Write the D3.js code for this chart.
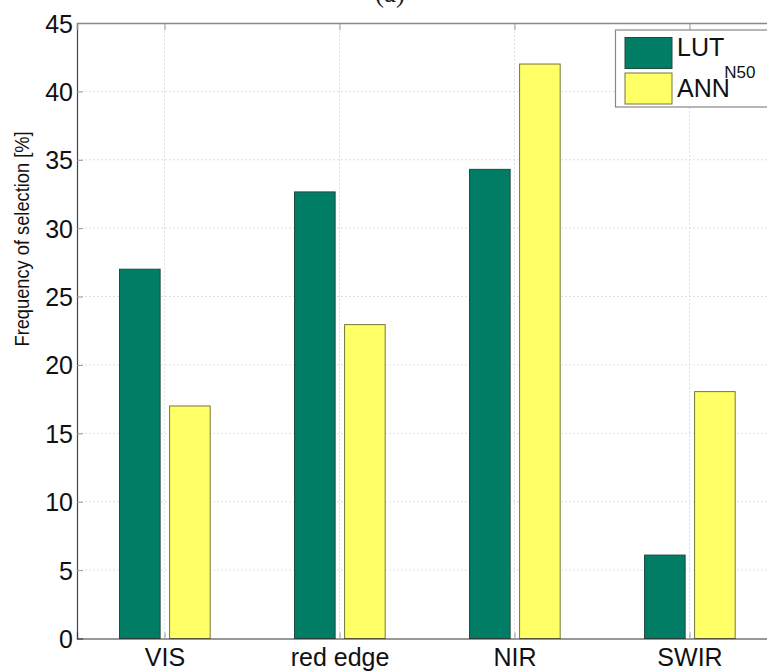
<!DOCTYPE html>
<html>
<head>
<meta charset="utf-8">
<script src="https://cdn.jsdelivr.net/npm/d3@7"></script>
<style>
  body { margin: 0; background: #fff; }
  svg { display: block; }
</style>
</head>
<body>
<script>
// Data
const CATEGORIES = ["VIS", "red edge", "NIR", "SWIR"];
const LUT_VALUES = [27.0, 32.65, 34.3, 6.1];
const ANN_VALUES = [17.0, 22.95, 42.0, 18.05];
const Y_TICKS = [0, 5, 10, 15, 20, 25, 30, 35, 40, 45];
const SERIES = [
  { name: "LUT", sub: "N50", values: LUT_VALUES, fill: "#017d66", stroke: "#1f4a3f", offset: -0.141 },
  { name: "ANN", sub: "", values: ANN_VALUES, fill: "#ffff66", stroke: "#77773a", offset: 0.145 }
];

/* Dimensions */
const WIDTH = 767;
const HEIGHT = 671;
const PLOT_LEFT = 77;
const PLOT_RIGHT = 777;   // axes box runs past the right edge of the picture
const PLOT_TOP = 23;
const PLOT_BOTTOM = 638.5;
const BAR_W = 0.232;      // in category units
const FONT = "Arial, 'Liberation Sans', Helvetica, sans-serif";

const svg = d3.select("body").append("svg")
  .attr("width", WIDTH)
  .attr("height", HEIGHT);

// Scales: categories sit at 1..4 like a MATLAB bar plot
const x = d3.scaleLinear()
  .domain([0.5, CATEGORIES.length + 0.5])
  .range([PLOT_LEFT, PLOT_RIGHT]);
const y = d3.scaleLinear()
  .domain([0, 45])
  .range([PLOT_BOTTOM, PLOT_TOP]);

// Title, mostly cut off at the top
svg.append("text")
  .attr("x", 390)
  .attr("y", 2)
  .attr("text-anchor", "middle")
  .attr("style", "font-family: 'Liberation Serif', 'Times New Roman', serif; font-size: 27px; fill: #222;")
  .text("(a)");

// Grid lines
const grid = svg.append("g");
grid.selectAll(".hgrid")
  .data(Y_TICKS.filter(d => d > 0 && d < 45))
  .enter().append("line")
  .attr("x1", PLOT_LEFT).attr("x2", PLOT_RIGHT)
  .attr("y1", d => y(d)).attr("y2", d => y(d))
  .attr("stroke", "#e0e0e0")
  .attr("stroke-dasharray", "2,2");
grid.selectAll(".vgrid")
  .data(CATEGORIES)
  .enter().append("line")
  .attr("x1", (d, i) => x(i + 1)).attr("x2", (d, i) => x(i + 1))
  .attr("y1", PLOT_TOP).attr("y2", PLOT_BOTTOM)
  .attr("stroke", "#e0e0e0")
  .attr("stroke-dasharray", "2,2");

// Bars
SERIES.forEach(s => {
  svg.append("g").selectAll("rect")
    .data(s.values)
    .enter().append("rect")
    .attr("x", (d, i) => x(i + 1 + s.offset - BAR_W / 2))
    .attr("width", x(BAR_W) - x(0))
    .attr("y", d => y(d))
    .attr("height", d => y(0) - y(d))
    .attr("fill", s.fill)
    .attr("stroke", s.stroke)
    .attr("stroke-width", 1);
});

// Axes
const yAxis = d3.axisLeft(y)
  .tickValues(Y_TICKS)
  .tickSize(-6)
  .tickPadding(10);
const gy = svg.append("g")
  .attr("transform", `translate(${PLOT_LEFT},0)`)
  .call(yAxis);
gy.select(".domain").attr("stroke", "#444").attr("stroke-width", 1.2);
gy.selectAll(".tick line").attr("stroke", "#999");
gy.selectAll(".tick text")
  .attr("x", -4)
  .attr("dy", "0.36em")
  .attr("style", `font-family: ${FONT}; font-size: 25px; fill: #111;`);

const xAxis = d3.axisBottom(x)
  .tickValues(d3.range(1, CATEGORIES.length + 1))
  .tickFormat((d, i) => CATEGORIES[i])
  .tickSize(-6)
  .tickPadding(10);
const gx = svg.append("g")
  .attr("transform", `translate(0,${PLOT_BOTTOM})`)
  .call(xAxis);
gx.select(".domain").attr("stroke", "#333").attr("stroke-width", 1.2);
gx.selectAll(".tick line").attr("stroke", "#999");
gx.selectAll(".tick text")
  .attr("dy", "0.71em")
  .attr("style", `font-family: ${FONT}; font-size: 25px; fill: #111;`);

// Top edge of the box, with its ticks
const gtop = svg.append("g")
  .attr("transform", `translate(0,${PLOT_TOP})`)
  .call(d3.axisTop(x).tickValues(d3.range(1, CATEGORIES.length + 1)).tickSize(-7).tickFormat(""));
gtop.select(".domain").attr("stroke", "#888").attr("stroke-width", 1.5);
gtop.selectAll(".tick line").attr("stroke", "#999");

// Y axis label
svg.append("text")
  .attr("transform", "translate(28.5,239) rotate(-90)")
  .attr("text-anchor", "middle")
  .attr("textLength", 215)
  .attr("lengthAdjust", "spacingAndGlyphs")
  .attr("style", `font-family: ${FONT}; font-size: 21px; fill: #111;`)
  .text("Frequency of selection [%]");

// Legend
const legend = svg.append("g");
legend.append("rect")
  .attr("x", 615.5).attr("y", 30)
  .attr("width", 170).attr("height", 77)
  .attr("fill", "#fff")
  .attr("stroke", "#888")
  .attr("stroke-width", 1.2);
SERIES.forEach((s, i) => {
  const ROW_Y = 37.5 + i * 35.5;
  legend.append("rect")
    .attr("x", 625).attr("y", ROW_Y)
    .attr("width", 47).attr("height", 31)
    .attr("fill", s.fill)
    .attr("stroke", s.stroke);
  const t = legend.append("text")
    .attr("x", 677)
    .attr("y", ROW_Y + 18 + i * 6)
    .attr("style", `font-family: ${FONT}; font-size: 25px; fill: #111;`)
    .text(s.name);
  if (s.sub) {
    t.append("tspan")
      .attr("dy", 22)
      .attr("style", "font-size: 17px;")
      .text(s.sub);
  }
});
</script>
</body>
</html>
